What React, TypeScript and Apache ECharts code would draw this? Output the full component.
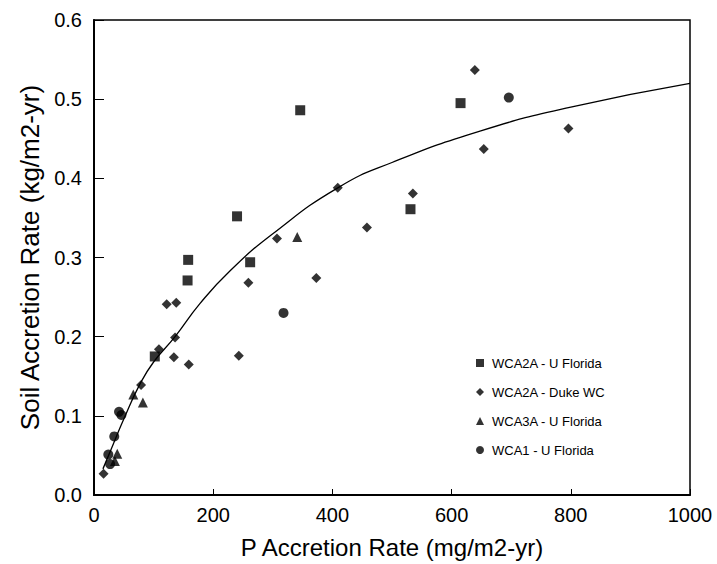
import React, { useEffect, useRef } from "react";
import * as echarts from "echarts";

const xTicks = [0, 200, 400, 600, 800, 1000];
const yTicks = [0, 0.1, 0.2, 0.3, 0.4, 0.5, 0.6];

const seriesNames = [
  "WCA2A - U Florida",
  "WCA2A - Duke WC",
  "WCA3A - U Florida",
  "WCA1 - U Florida",
];

const wca2aUF: [number, number][] = [
  [102, 0.175],
  [158, 0.297],
  [157, 0.271],
  [240, 0.352],
  [262, 0.294],
  [346, 0.486],
  [531, 0.361],
  [615, 0.495],
];

const wca2aDuke: [number, number][] = [
  [16, 0.027],
  [79, 0.139],
  [109, 0.184],
  [122, 0.241],
  [138, 0.243],
  [136, 0.199],
  [134, 0.174],
  [159, 0.165],
  [243, 0.176],
  [259, 0.268],
  [307, 0.324],
  [373, 0.274],
  [409, 0.388],
  [458, 0.338],
  [535, 0.381],
  [639, 0.537],
  [654, 0.437],
  [796, 0.463],
];

const wca3aUF: [number, number][] = [
  [35, 0.043],
  [39, 0.052],
  [66, 0.127],
  [82, 0.117],
  [341, 0.326],
];

const wca1UF: [number, number][] = [
  [24, 0.051],
  [27, 0.039],
  [34, 0.074],
  [42, 0.105],
  [46, 0.101],
  [318, 0.23],
  [696, 0.502],
];

// fitted curve
const curveX = [15, 30, 50, 77, 100, 136, 178, 228, 300, 409, 500, 649, 800, 1000];
const curveY = [0.033, 0.06, 0.096, 0.14, 0.168, 0.2, 0.242, 0.283, 0.33, 0.388, 0.42, 0.46, 0.49, 0.52];

export default function App() {
  const ref = useRef<HTMLDivElement>(null);
  useEffect(() => {
    if (!ref.current) return;
    const chart = echarts.init(ref.current, null, { renderer: "svg" });
    const font = "Liberation Sans, Arial, sans-serif";
    const mk = (name: string, data: [number, number][], symbol: string, size: number) => ({
      name,
      type: "scatter",
      data,
      symbol,
      symbolSize: size,
      itemStyle: { color: "#000" },
      z: 3,
    });
    chart.setOption({
      animation: false,
      backgroundColor: "#fff",
      textStyle: { fontFamily: font },
      grid: {
        left: 94,
        right: 27,
        top: 20,
        bottom: 64,
        show: true,
        borderColor: "#000",
        borderWidth: 1.5,
        backgroundColor: "transparent",
      },
      legend: {
        orient: "vertical",
        left: 471,
        top: 350,
        itemWidth: 8,
        itemHeight: 8,
        itemGap: 13,
        data: seriesNames,
        textStyle: {
          fontFamily: font,
          fontSize: 13,
          lineHeight: 16,
          color: "#000",
          padding: [0, 0, 0, 3],
        },
      },
      xAxis: {
        type: "value",
        min: xTicks[0],
        max: xTicks[xTicks.length - 1],
        interval: xTicks[1] - xTicks[0],
        name: "P Accretion Rate (mg/m2-yr)",
        nameLocation: "middle",
        nameGap: 40,
        nameTextStyle: { fontFamily: font, fontSize: 24, color: "#000" },
        axisLine: { lineStyle: { color: "#000", width: 2 } },
        axisTick: { inside: true, length: 6, lineStyle: { color: "#000" } },
        axisLabel: {
          fontFamily: font,
          fontSize: 20,
          color: "#000",
          margin: 10,
          formatter: (v: number) => String(v),
        },
        splitLine: { show: false },
      },
      yAxis: {
        type: "value",
        min: yTicks[0],
        max: yTicks[yTicks.length - 1],
        interval: 0.1,
        name: "Soil Accretion Rate (kg/m2-yr)",
        nameLocation: "middle",
        nameGap: 50,
        nameTextStyle: { fontFamily: font, fontSize: 26, color: "#000" },
        axisLine: { lineStyle: { color: "#000", width: 2 } },
        axisTick: { inside: true, length: 10, lineStyle: { color: "#000" } },
        axisLabel: {
          fontFamily: font,
          fontSize: 20,
          color: "#000",
          margin: 12,
          formatter: (v: number) => v.toFixed(1),
        },
        splitLine: { show: false },
      },
      series: [
        {
          name: "fit",
          type: "line",
          data: curveX.map((x, i) => [x, curveY[i]]),
          smooth: true,
          showSymbol: false,
          symbol: "none",
          lineStyle: { color: "#000", width: 1.3 },
          z: 2,
        },
        mk(seriesNames[0], wca2aUF, "rect", 10),
        mk(seriesNames[1], wca2aDuke, "diamond", 10),
        mk(seriesNames[2], wca3aUF, "triangle", 10),
        mk(seriesNames[3], wca1UF, "circle", 10),
      ],
    });
    return () => chart.dispose();
  }, []);
  return <div ref={ref} style={{ width: 717, height: 564, position: "absolute", left: 0, top: 0 }} />;
}
